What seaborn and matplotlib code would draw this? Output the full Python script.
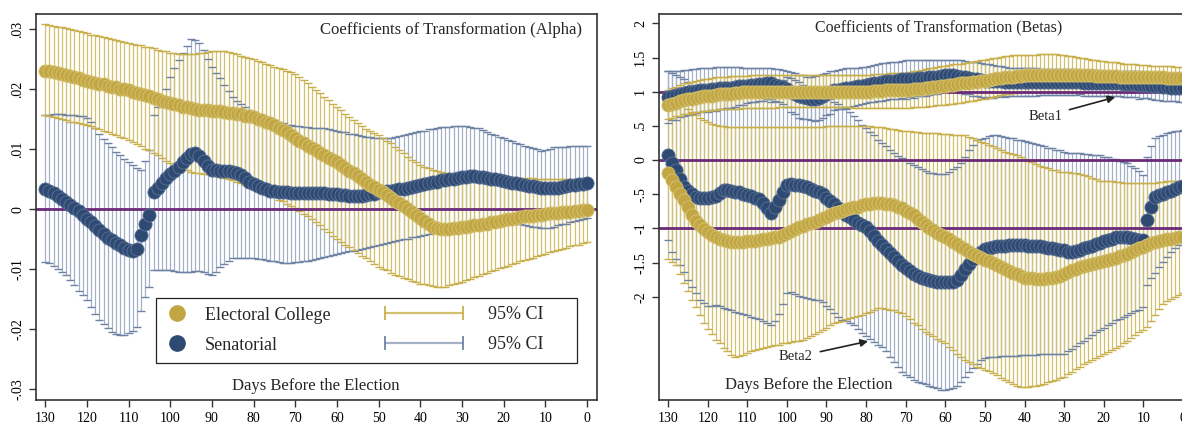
import numpy as np
import pandas as pd
import matplotlib
matplotlib.use('Agg')
import matplotlib.pyplot as plt
from matplotlib.lines import Line2D
from matplotlib.legend_handler import HandlerLine2D
import seaborn as sns

# days before the election (x axis, reversed)
days = list(range(130, -1, -1))

# ---- left panel: alpha ----
alpha_ec = [
    .0231, .0230, .0229, .0227, .0226, .0224, .0222, .0220, .0218, .0216,
    .0214, .0212, .0211, .0209, .0208, .0206, .0204, .0203, .0201, .0200,
    .0198, .0196, .0194, .0192, .0190, .0188, .0186, .0184, .0181, .0179,
    .0177, .0175, .0173, .0171, .0170, .0168, .0167, .0166, .0165, .0165,
    .0164, .0163, .0163, .0162, .0161, .0160, .0159, .0158, .0156, .0155,
    .0153, .0151, .0148, .0146, .0143, .0140, .0136, .0132, .0128, .0124,
    .0118, .0114, .0110, .0106, .0102, .0098, .0094, .0090, .0086, .0082,
    .0078, .0073, .0069, .0064, .0060, .0055, .0050, .0046, .0041, .0037,
    .0032, .0028, .0023, .0019, .0014, .0010, .0005, .0000, -.0004, -.0010,
    -.0015, -.0020, -.0025, -.0030, -.0031, -.0033, -.0033, -.0033, -.0032, -.0031,
    -.0030, -.0029, -.0028, -.0027, -.0026, -.0025, -.0024, -.0022, -.0021, -.0020,
    -.0018, -.0017, -.0016, -.0015, -.0013, -.0012, -.0011, -.0011, -.0010, -.0009,
    -.0008, -.0007, -.0006, -.0006, -.0005, -.0004, -.0004, -.0003, -.0003, -.0002,
    -.0002]
alpha_ec_hi = [
    .0308, .0307, .0306, .0304, .0303, .0302, .0300, .0298, .0297, .0295,
    .0293, .0291, .0290, .0288, .0287, .0285, .0283, .0282, .0280, .0279,
    .0277, .0276, .0274, .0273, .0271, .0270, .0268, .0266, .0264, .0263,
    .0261, .0260, .0259, .0258, .0258, .0258, .0259, .0260, .0261, .0262,
    .0263, .0263, .0263, .0263, .0262, .0260, .0258, .0256, .0254, .0252,
    .0250, .0247, .0245, .0242, .0240, .0237, .0235, .0233, .0230, .0228,
    .0226, .0221, .0215, .0210, .0204, .0199, .0193, .0187, .0182, .0176,
    .0170, .0165, .0159, .0154, .0148, .0143, .0138, .0133, .0130, .0127,
    .0123, .0118, .0114, .0110, .0104, .0099, .0093, .0087, .0082, .0078,
    .0074, .0070, .0068, .0066, .0064, .0062, .0061, .0060, .0059, .0058,
    .0057, .0057, .0056, .0056, .0055, .0054, .0054, .0054, .0053, .0053,
    .0053, .0053, .0053, .0052, .0052, .0052, .0052, .0052, .0051, .0051,
    .0051, .0051, .0051, .0051, .0051, .0051, .0051, .0051, .0051, .0051,
    .0051]
alpha_ec_lo = [
    .0157, .0155, .0153, .0152, .0150, .0148, .0146, .0145, .0143, .0142,
    .0140, .0138, .0135, .0133, .0130, .0128, .0125, .0123, .0120, .0118,
    .0115, .0112, .0108, .0105, .0101, .0098, .0094, .0090, .0085, .0081,
    .0077, .0074, .0071, .0068, .0065, .0062, .0061, .0060, .0059, .0058,
    .0057, .0055, .0053, .0052, .0050, .0048, .0046, .0044, .0041, .0039,
    .0037, .0034, .0030, .0027, .0023, .0020, .0016, .0013, .0009, .0006,
    .0002, -.0003, -.0008, -.0012, -.0017, -.0022, -.0027, -.0033, -.0038, -.0044,
    -.0049, -.0054, -.0059, -.0063, -.0068, -.0073, -.0078, -.0082, -.0087, -.0091,
    -.0096, -.0099, -.0102, -.0106, -.0109, -.0112, -.0114, -.0117, -.0119, -.0122,
    -.0124, -.0125, -.0127, -.0128, -.0129, -.0130, -.0129, -.0127, -.0125, -.0123,
    -.0121, -.0118, -.0116, -.0113, -.0111, -.0108, -.0106, -.0103, -.0101, -.0098,
    -.0096, -.0094, -.0092, -.0089, -.0087, -.0085, -.0083, -.0081, -.0078, -.0076,
    -.0074, -.0072, -.0070, -.0068, -.0066, -.0064, -.0062, -.0060, -.0059, -.0057,
    -.0055]
alpha_sen = [
    .0034, .0031, .0027, .0022, .0017, .0012, .0007, .0002, -.0003, -.0009,
    -.0016, -.0022, -.0028, -.0035, -.0041, -.0048, -.0052, -.0056, -.0060, -.0064,
    -.0068, -.0069, -.0066, -.0043, -.0024, -.0010, .0028, .0036, .0044, .0052,
    .0058, .0064, .0071, .0078, .0085, .0092, .0093, .0088, .0080, .0072,
    .0066, .0065, .0064, .0064, .0063, .0062, .0060, .0057, .0052, .0046,
    .0042, .0038, .0035, .0033, .0031, .0030, .0029, .0028, .0028, .0027,
    .0027, .0027, .0027, .0027, .0027, .0027, .0027, .0027, .0026, .0026,
    .0025, .0024, .0023, .0022, .0022, .0022, .0022, .0023, .0025, .0026,
    .0028, .0029, .0030, .0031, .0032, .0033, .0034, .0036, .0037, .0039,
    .0041, .0042, .0044, .0045, .0046, .0048, .0049, .0050, .0051, .0052,
    .0053, .0054, .0055, .0055, .0054, .0053, .0052, .0051, .0050, .0048,
    .0047, .0045, .0044, .0043, .0042, .0040, .0039, .0038, .0037, .0036,
    .0035, .0035, .0036, .0036, .0037, .0039, .0040, .0041, .0042, .0042,
    .0043]
alpha_sen_hi = [
    .0157, .0157, .0158, .0158, .0158, .0157, .0157, .0157, .0156, .0155,
    .0152, .0145, .0135, .0125, .0117, .0110, .0103, .0096, .0090, .0084,
    .0078, .0073, .0068, .0065, .0080, .0098, .0157, .0170, .0185, .0200,
    .0220, .0235, .0248, .0260, .0272, .0283, .0282, .0277, .0265, .0250,
    .0237, .0227, .0218, .0207, .0197, .0187, .0181, .0175, .0170, .0165,
    .0160, .0157, .0155, .0152, .0150, .0147, .0145, .0143, .0141, .0140,
    .0138, .0138, .0137, .0137, .0136, .0136, .0135, .0135, .0134, .0132,
    .0131, .0129, .0128, .0126, .0125, .0123, .0122, .0121, .0120, .0119,
    .0119, .0118, .0118, .0118, .0120, .0122, .0124, .0126, .0127, .0128,
    .0130, .0131, .0133, .0134, .0136, .0137, .0137, .0137, .0138, .0138,
    .0138, .0138, .0137, .0136, .0135, .0132, .0129, .0126, .0124, .0121,
    .0118, .0115, .0113, .0111, .0109, .0106, .0104, .0102, .0100, .0097,
    .0098, .0100, .0103, .0104, .0104, .0104, .0105, .0105, .0105, .0105,
    .0105]
alpha_sen_lo = [
    -.0088, -.0090, -.0095, -.0100, -.0105, -.0110, -.0118, -.0127, -.0136, -.0143,
    -.0152, -.0163, -.0175, -.0185, -.0192, -.0198, -.0205, -.0208, -.0210, -.0210,
    -.0207, -.0203, -.0197, -.0170, -.0147, -.0130, -.0102, -.0102, -.0102, -.0102,
    -.0102, -.0103, -.0104, -.0105, -.0105, -.0104, -.0103, -.0103, -.0105, -.0108,
    -.0110, -.0104, -.0097, -.0092, -.0087, -.0082, -.0082, -.0082, -.0082, -.0082,
    -.0082, -.0083, -.0083, -.0084, -.0086, -.0087, -.0088, -.0090, -.0090, -.0089,
    -.0088, -.0088, -.0087, -.0086, -.0084, -.0083, -.0082, -.0080, -.0078, -.0077,
    -.0075, -.0073, -.0072, -.0070, -.0069, -.0068, -.0066, -.0064, -.0063, -.0061,
    -.0060, -.0058, -.0057, -.0055, -.0053, -.0052, -.0050, -.0049, -.0047, -.0046,
    -.0045, -.0043, -.0041, -.0039, -.0037, -.0035, -.0033, -.0031, -.0029, -.0027,
    -.0026, -.0025, -.0024, -.0022, -.0021, -.0020, -.0019, -.0018, -.0019, -.0020,
    -.0021, -.0022, -.0023, -.0024, -.0025, -.0027, -.0028, -.0029, -.0030, -.0031,
    -.0032, -.0031, -.0029, -.0027, -.0025, -.0024, -.0022, -.0020, -.0018, -.0016,
    -.0015]

# ---- right panel: betas ----
beta1_ec = [
    .80, .82, .84, .86, .88, .89, .90, .91, .92, .93,
    .94, .94, .95, .96, .96, .97, .97, .98, .98, .99,
    .99, .99, .99, 1.00, 1.00, 1.00, 1.00, 1.00, 1.00, 1.00,
    1.00, 1.00, 1.00, 1.00, 1.00, 1.00, 1.00, 1.00, 1.00, 1.00,
    1.00, 1.00, 1.00, 1.00, 1.00, 1.00, 1.00, 1.00, 1.00, 1.00,
    1.00, 1.00, 1.01, 1.01, 1.01, 1.02, 1.02, 1.02, 1.02, 1.03,
    1.03, 1.03, 1.04, 1.04, 1.04, 1.05, 1.06, 1.07, 1.07, 1.08,
    1.09, 1.10, 1.10, 1.11, 1.12, 1.13, 1.13, 1.14, 1.14, 1.15,
    1.16, 1.17, 1.19, 1.20, 1.20, 1.21, 1.22, 1.22, 1.23, 1.23,
    1.24, 1.24, 1.24, 1.24, 1.24, 1.24, 1.24, 1.24, 1.24, 1.24,
    1.24, 1.24, 1.24, 1.24, 1.24, 1.24, 1.24, 1.24, 1.23, 1.23,
    1.23, 1.23, 1.23, 1.23, 1.22, 1.22, 1.22, 1.22, 1.21, 1.21,
    1.21, 1.21, 1.21, 1.21, 1.21, 1.21, 1.20, 1.20, 1.20, 1.20,
    1.20]
beta1_ec_hi = [
    1.02, 1.05, 1.07, 1.10, 1.12, 1.13, 1.14, 1.16, 1.17, 1.18,
    1.19, 1.20, 1.21, 1.21, 1.22, 1.22, 1.23, 1.23, 1.23, 1.23,
    1.23, 1.24, 1.24, 1.24, 1.24, 1.24, 1.24, 1.24, 1.24, 1.24,
    1.24, 1.24, 1.24, 1.24, 1.24, 1.24, 1.24, 1.24, 1.24, 1.24,
    1.24, 1.24, 1.24, 1.24, 1.24, 1.24, 1.24, 1.25, 1.25, 1.25,
    1.25, 1.25, 1.26, 1.26, 1.26, 1.26, 1.27, 1.27, 1.27, 1.27,
    1.28, 1.29, 1.30, 1.31, 1.32, 1.33, 1.34, 1.35, 1.36, 1.37,
    1.38, 1.39, 1.40, 1.40, 1.41, 1.42, 1.43, 1.44, 1.45, 1.46,
    1.47, 1.48, 1.49, 1.50, 1.51, 1.52, 1.52, 1.53, 1.53, 1.53,
    1.53, 1.54, 1.54, 1.54, 1.55, 1.55, 1.55, 1.55, 1.55, 1.54,
    1.53, 1.52, 1.52, 1.51, 1.50, 1.49, 1.48, 1.47, 1.46, 1.45,
    1.45, 1.44, 1.44, 1.43, 1.42, 1.41, 1.40, 1.40, 1.40, 1.39,
    1.39, 1.39, 1.38, 1.38, 1.38, 1.37, 1.37, 1.37, 1.36, 1.36,
    1.36]
beta1_ec_lo = [
    .60, .62, .64, .65, .67, .68, .69, .70, .71, .72,
    .72, .73, .73, .74, .74, .75, .75, .75, .75, .76,
    .76, .76, .76, .76, .76, .76, .76, .76, .77, .77,
    .77, .77, .77, .77, .77, .77, .77, .77, .77, .77,
    .77, .77, .77, .77, .77, .77, .77, .76, .76, .76,
    .76, .76, .76, .76, .76, .76, .76, .76, .76, .76,
    .76, .76, .77, .77, .78, .78, .79, .79, .80, .80,
    .81, .82, .82, .83, .84, .85, .86, .87, .88, .89,
    .90, .91, .92, .93, .95, .96, .97, .98, .98, .99,
    .99, .99, .99, .99, 1.00, 1.00, 1.00, 1.00, 1.00, 1.00,
    1.00, 1.00, 1.00, 1.00, 1.00, 1.00, 1.00, 1.00, 1.00, 1.00,
    1.00, 1.00, 1.00, 1.00, 1.00, 1.00, 1.00, 1.00, 1.00, 1.00,
    1.01, 1.01, 1.01, 1.01, 1.01, 1.01, 1.02, 1.02, 1.02, 1.02,
    1.02]
beta1_sen = [
    .92, .94, .95, .97, .98, .99, 1.00, 1.01, 1.02, 1.03,
    1.03, 1.04, 1.04, 1.05, 1.05, 1.06, 1.06, 1.07, 1.08, 1.08,
    1.09, 1.10, 1.10, 1.11, 1.11, 1.12, 1.12, 1.10, 1.09, 1.07,
    1.04, 1.00, .97, .93, .92, .91, .90, .90, .91, .94,
    .97, .99, 1.02, 1.03, 1.04, 1.05, 1.06, 1.07, 1.08, 1.09,
    1.10, 1.11, 1.12, 1.13, 1.14, 1.15, 1.16, 1.16, 1.17, 1.18,
    1.18, 1.19, 1.19, 1.20, 1.20, 1.20, 1.21, 1.22, 1.22, 1.23,
    1.24, 1.24, 1.24, 1.23, 1.22, 1.21, 1.20, 1.19, 1.18, 1.17,
    1.16, 1.16, 1.15, 1.15, 1.15, 1.14, 1.14, 1.14, 1.14, 1.14,
    1.14, 1.14, 1.14, 1.14, 1.14, 1.14, 1.14, 1.14, 1.14, 1.14,
    1.14, 1.14, 1.14, 1.14, 1.14, 1.13, 1.13, 1.13, 1.13, 1.13,
    1.12, 1.12, 1.12, 1.12, 1.12, 1.11, 1.11, 1.11, 1.11, 1.10,
    1.10, 1.10, 1.09, 1.08, 1.08, 1.07, 1.07, 1.06, 1.06, 1.05,
    1.05]
beta1_sen_hi = [
    1.30, 1.30, 1.31, 1.31, 1.32, 1.32, 1.33, 1.33, 1.34, 1.34,
    1.35, 1.35, 1.36, 1.36, 1.36, 1.36, 1.36, 1.36, 1.36, 1.35,
    1.35, 1.35, 1.35, 1.35, 1.35, 1.34, 1.34, 1.33, 1.33, 1.32,
    1.30, 1.29, 1.27, 1.25, 1.24, 1.22, 1.22, 1.23, 1.24, 1.26,
    1.28, 1.30, 1.31, 1.32, 1.33, 1.34, 1.34, 1.35, 1.35, 1.36,
    1.36, 1.37, 1.39, 1.40, 1.42, 1.42, 1.43, 1.43, 1.44, 1.45,
    1.46, 1.46, 1.47, 1.47, 1.47, 1.47, 1.47, 1.47, 1.47, 1.47,
    1.47, 1.47, 1.47, 1.46, 1.46, 1.45, 1.44, 1.44, 1.43, 1.42,
    1.41, 1.40, 1.39, 1.38, 1.37, 1.36, 1.35, 1.35, 1.35, 1.34,
    1.34, 1.34, 1.34, 1.34, 1.33, 1.33, 1.33, 1.33, 1.33, 1.33,
    1.33, 1.33, 1.33, 1.33, 1.32, 1.32, 1.32, 1.32, 1.32, 1.32,
    1.31, 1.31, 1.31, 1.31, 1.31, 1.30, 1.30, 1.30, 1.30, 1.30,
    1.29, 1.29, 1.28, 1.28, 1.28, 1.27, 1.27, 1.26, 1.26, 1.25,
    1.25]
beta1_sen_lo = [
    .54, .58, .59, .63, .64, .66, .67, .69, .70, .72,
    .71, .73, .72, .74, .74, .76, .76, .78, .80, .81,
    .83, .85, .85, .87, .87, .90, .90, .87, .85, .82,
    .78, .71, .67, .61, .60, .60, .58, .57, .58, .62,
    .66, .68, .73, .74, .75, .76, .78, .79, .81, .82,
    .84, .85, .85, .86, .86, .88, .89, .89, .90, .91,
    .90, .92, .91, .93, .93, .93, .95, .97, .97, .99,
    1.01, 1.01, 1.01, 1.00, .98, .97, .96, .94, .93, .92,
    .91, .92, .91, .92, .93, .92, .93, .93, .93, .94,
    .94, .94, .94, .94, .95, .95, .95, .95, .95, .95,
    .95, .95, .95, .95, .96, .94, .94, .94, .94, .94,
    .93, .93, .93, .93, .93, .92, .92, .92, .92, .90,
    .91, .91, .90, .88, .88, .87, .87, .86, .86, .85,
    .85]
beta2_ec = [
    -.19, -.29, -.39, -.49, -.58, -.68, -.80, -.89, -.95, -1.01,
    -1.05, -1.09, -1.12, -1.15, -1.17, -1.19, -1.20, -1.20, -1.20, -1.20,
    -1.19, -1.19, -1.18, -1.17, -1.16, -1.15, -1.14, -1.13, -1.12, -1.10,
    -1.07, -1.04, -1.01, -.98, -.96, -.94, -.92, -.90, -.87, -.85,
    -.83, -.80, -.78, -.76, -.74, -.72, -.70, -.69, -.68, -.66,
    -.65, -.64, -.63, -.63, -.63, -.64, -.65, -.66, -.68, -.70,
    -.74, -.77, -.81, -.86, -.90, -.95, -.99, -1.03, -1.06, -1.09,
    -1.13, -1.16, -1.20, -1.23, -1.27, -1.30, -1.34, -1.37, -1.41, -1.43,
    -1.46, -1.48, -1.51, -1.54, -1.56, -1.59, -1.62, -1.65, -1.67, -1.70,
    -1.72, -1.73, -1.73, -1.74, -1.74, -1.74, -1.73, -1.72, -1.71, -1.69,
    -1.66, -1.64, -1.61, -1.59, -1.56, -1.55, -1.53, -1.52, -1.51, -1.49,
    -1.48, -1.46, -1.45, -1.43, -1.41, -1.39, -1.37, -1.35, -1.32, -1.29,
    -1.27, -1.24, -1.22, -1.20, -1.19, -1.17, -1.16, -1.15, -1.14, -1.13,
    -1.12]
beta2_ec_hi = [
    1.00, .95, .90, .85, .80, .75, .70, .66, .62, .58,
    .55, .53, .51, .50, .50, .49, .49, .49, .48, .48,
    .48, .48, .48, .48, .48, .48, .48, .49, .49, .49,
    .49, .49, .49, .49, .49, .49, .49, .49, .49, .49,
    .50, .50, .50, .50, .50, .50, .50, .50, .50, .50,
    .50, .50, .49, .49, .48, .47, .46, .45, .44, .43,
    .42, .42, .41, .41, .40, .40, .40, .39, .39, .38,
    .38, .38, .37, .37, .36, .36, .34, .32, .29, .27,
    .25, .22, .20, .17, .15, .12, .10, .09, .07, .05,
    .02, -.01, -.03, -.06, -.08, -.10, -.12, -.14, -.15, -.17,
    -.18, -.18, -.19, -.19, -.20, -.22, -.24, -.26, -.28, -.30,
    -.30, -.31, -.31, -.32, -.32, -.33, -.33, -.33, -.34, -.34,
    -.34, -.34, -.33, -.33, -.32, -.32, -.31, -.31, -.30, -.30,
    -.30]
beta2_ec_lo = [
    -1.44, -1.49, -1.54, -1.67, -1.80, -1.92, -2.04, -2.15, -2.27, -2.38,
    -2.47, -2.55, -2.63, -2.68, -2.75, -2.80, -2.85, -2.88, -2.87, -2.85,
    -2.82, -2.80, -2.78, -2.77, -2.75, -2.73, -2.72, -2.71, -2.70, -2.68,
    -2.67, -2.66, -2.65, -2.64, -2.63, -2.61, -2.58, -2.55, -2.51, -2.48,
    -2.45, -2.41, -2.38, -2.37, -2.35, -2.33, -2.31, -2.29, -2.28, -2.26,
    -2.24, -2.22, -2.19, -2.17, -2.17, -2.18, -2.19, -2.20, -2.22, -2.24,
    -2.28, -2.33, -2.38, -2.42, -2.47, -2.51, -2.55, -2.58, -2.62, -2.65,
    -2.68, -2.73, -2.78, -2.83, -2.88, -2.92, -2.95, -2.99, -3.02, -3.04,
    -3.07, -3.09, -3.12, -3.15, -3.19, -3.22, -3.25, -3.27, -3.30, -3.32,
    -3.32, -3.32, -3.31, -3.30, -3.29, -3.27, -3.25, -3.23, -3.21, -3.19,
    -3.17, -3.13, -3.10, -3.06, -3.02, -2.99, -2.96, -2.93, -2.90, -2.87,
    -2.84, -2.81, -2.78, -2.75, -2.72, -2.68, -2.64, -2.60, -2.56, -2.52,
    -2.48, -2.44, -2.36, -2.27, -2.18, -2.10, -2.06, -2.03, -2.00, -1.97,
    -1.94]
beta2_sen = [
    .07, -.04, -.15, -.28, -.39, -.45, -.50, -.54, -.56, -.56,
    -.55, -.54, -.52, -.48, -.44, -.44, -.45, -.46, -.47, -.49,
    -.51, -.53, -.55, -.57, -.63, -.70, -.78, -.68, -.58, -.47,
    -.37, -.35, -.36, -.37, -.38, -.40, -.43, -.45, -.47, -.50,
    -.55, -.60, -.65, -.70, -.75, -.80, -.84, -.88, -.92, -.95,
    -.98, -1.04, -1.11, -1.18, -1.24, -1.30, -1.36, -1.42, -1.48, -1.54,
    -1.58, -1.63, -1.66, -1.69, -1.72, -1.74, -1.76, -1.77, -1.78, -1.79,
    -1.79, -1.79, -1.78, -1.76, -1.68, -1.60, -1.52, -1.45, -1.39, -1.34,
    -1.30, -1.28, -1.27, -1.26, -1.25, -1.25, -1.24, -1.24, -1.24, -1.24,
    -1.24, -1.25, -1.25, -1.26, -1.26, -1.27, -1.28, -1.29, -1.30, -1.31,
    -1.32, -1.34, -1.35, -1.33, -1.31, -1.29, -1.27, -1.25, -1.23, -1.21,
    -1.19, -1.17, -1.15, -1.13, -1.12, -1.12, -1.13, -1.14, -1.15, -1.17,
    -1.17, -.88, -.68, -.54, -.51, -.49, -.47, -.45, -.43, -.40,
    -.38]
beta2_sen_hi = [
    1.31, 1.28, 1.25, 1.22, 1.18, 1.14, 1.10, 1.07, 1.05, 1.02,
    1.00, .99, .98, .97, .96, .95, .95, .94, .94, .94,
    .93, .93, .92, .92, .91, .90, .85, .95, 1.08, 1.17,
    1.21, 1.20, 1.17, 1.14, 1.10, 1.05, 1.03, 1.00, .97, .95,
    .92, .89, .85, .82, .78, .75, .71, .65, .59, .52,
    .47, .41, .36, .30, .25, .20, .15, .10, .06, .03,
    .00, -.04, -.07, -.10, -.13, -.16, -.19, -.19, -.20, -.20,
    -.20, -.17, -.13, -.10, -.05, .05, .15, .22, .29, .31,
    .33, .35, .37, .36, .35, .34, .33, .32, .30, .29,
    .28, .26, .25, .23, .22, .20, .18, .17, .15, .14,
    .12, .11, .11, .10, .10, .09, .09, .08, .08, .07,
    .05, .04, .02, .01, -.01, -.03, -.05, -.08, -.12, -.16,
    -.22, .05, .20, .32, .35, .37, .39, .41, .42, .43,
    .44]
beta2_sen_lo = [
    -1.17, -1.34, -1.44, -1.54, -1.64, -1.75, -1.86, -1.95, -2.05, -2.09,
    -2.13, -2.13, -2.12, -2.13, -2.16, -2.18, -2.20, -2.22, -2.23, -2.25,
    -2.27, -2.29, -2.31, -2.33, -2.36, -2.38, -2.41, -2.35, -2.25, -2.10,
    -1.95, -1.93, -1.96, -1.99, -2.01, -2.02, -2.03, -2.04, -2.05, -2.08,
    -2.13, -2.18, -2.24, -2.30, -2.34, -2.36, -2.38, -2.42, -2.47, -2.53,
    -2.58, -2.62, -2.66, -2.70, -2.74, -2.80, -2.88, -2.95, -3.02, -3.10,
    -3.14, -3.17, -3.21, -3.24, -3.26, -3.28, -3.30, -3.32, -3.34, -3.36,
    -3.36, -3.35, -3.33, -3.30, -3.24, -3.17, -3.10, -3.04, -2.98, -2.93,
    -2.90, -2.88, -2.88, -2.88, -2.87, -2.87, -2.87, -2.86, -2.86, -2.85,
    -2.85, -2.85, -2.85, -2.85, -2.84, -2.84, -2.84, -2.84, -2.84, -2.83,
    -2.83, -2.80, -2.76, -2.72, -2.68, -2.64, -2.60, -2.56, -2.52, -2.48,
    -2.45, -2.41, -2.38, -2.34, -2.32, -2.29, -2.26, -2.24, -2.21, -2.19,
    -2.15, -1.83, -1.73, -1.65, -1.56, -1.49, -1.42, -1.35, -1.29, -1.24,
    -1.20]

alpha_ticks = [-.03, -.02, -.01, 0, .01, .02, .03]
alpha_labels = ['-.03', '-.02', '-.01', '0', '.01', '.02', '.03']
beta_ticks = [-2, -1.5, -1, -.5, 0, .5, 1, 1.5, 2]
beta_labels = ['-2', '-1.5', '-1', '-.5', '0', '.5', '1', '1.5', '2']
day_ticks = [130, 120, 110, 100, 90, 80, 70, 60, 50, 40, 30, 20, 10, 0]

sns.set_theme(style='ticks')
plt.rcParams['font.family'] = ['Liberation Serif', 'DejaVu Serif']

GOLD = '#C1A643'
GOLD_EDGE = '#D6C474'
GOLD_CI = '#D3C06E'
GOLD_CAP = '#C8AF4C'
NAVY = '#2E4A72'
NAVY_EDGE = '#5C7397'
SEN_CI = '#A3B0C7'
SEN_CAP = '#6E82A4'
PURPLE = '#6B2A78'


def draw_ci(ax, lo, hi, color, capcolor):
    ax.vlines(days, lo, hi, color=color, lw=0.9, zorder=2)
    for edge in (lo, hi):
        ax.plot(days, edge, ls='none', marker='_', ms=6, mew=1.0,
                color=capcolor, zorder=2.2)


def draw_est(ax, vals, color, edge, z):
    df = pd.DataFrame({'day': days, 'coef': vals})
    sns.scatterplot(data=df, x='day', y='coef', ax=ax, s=90, color=color,
                    edgecolor=edge, linewidth=0.6, zorder=z, legend=False)


def style_axes(ax):
    ax.set_xlabel('')
    ax.set_ylabel('')
    for sp in ax.spines.values():
        sp.set_visible(True)
        sp.set_color('#333333')
        sp.set_linewidth(1.2)
    ax.tick_params(axis='both', direction='out', length=5, width=1,
                   color='#333333', labelsize=10, labelcolor='black')
    ax.set_xticks(day_ticks)
    ax.set_facecolor('white')


fig = plt.figure(figsize=(11.82, 4.25), dpi=100)
ax1 = fig.add_axes([0.0305, 0.0588, 0.4746, 0.908])
ax2 = fig.add_axes([0.5575, 0.0588, 0.451, 0.908])

# ---- left: alpha ----
draw_ci(ax1, alpha_sen_lo, alpha_sen_hi, SEN_CI, SEN_CAP)
draw_ci(ax1, alpha_ec_lo, alpha_ec_hi, GOLD_CI, GOLD_CAP)
ax1.axhline(0, color=PURPLE, lw=2, zorder=2.5)
draw_est(ax1, alpha_sen, NAVY, NAVY_EDGE, 3)
draw_est(ax1, alpha_ec, GOLD, GOLD_EDGE, 3.5)
style_axes(ax1)
ax1.set_xlim(132.2, -2.4)
ax1.set_ylim(-.0318, .0325)
ax1.set_yticks(alpha_ticks, alpha_labels, rotation=90, va='center')
ax1.text(0.973, 0.958, 'Coefficients of Transformation (Alpha)', transform=ax1.transAxes,
         ha='right', va='center', fontsize=12)
ax1.text(0.499, 0.036, 'Days Before the Election', transform=ax1.transAxes,
         ha='center', va='center', fontsize=12)

dot_ec = Line2D([], [], ls='none', marker='o', ms=11, color=GOLD)
dot_sen = Line2D([], [], ls='none', marker='o', ms=11, color=NAVY)
ci_ec = Line2D([], [], color=GOLD_CI, lw=1.6, marker='|', ms=10, mew=1.3, mec=GOLD_CAP)
ci_sen = Line2D([], [], color=SEN_CI, lw=1.6, marker='|', ms=10, mew=1.3, mec=SEN_CAP)

leg1 = ax1.legend([dot_ec, dot_sen], ['Electoral College', 'Senatorial'],
                  loc='center', bbox_to_anchor=(0.214, 0.0907, 0.75, 0.181), mode='expand',
                  borderaxespad=0, fontsize=13, handlelength=1.3, handletextpad=0.9,
                  labelspacing=0.72, borderpad=0.5, frameon=True, fancybox=False,
                  framealpha=1, edgecolor='#222222',
                  handler_map={dot_ec: HandlerLine2D(numpoints=1),
                               dot_sen: HandlerLine2D(numpoints=1)})
leg1.get_frame().set_linewidth(0.9)
leg1.set_zorder(6)
ax1.add_artist(leg1)
leg2 = ax1.legend([ci_ec, ci_sen], ['95% CI', '95% CI'],
                  loc='center left', bbox_to_anchor=(0.6, 0.1815), borderaxespad=0,
                  fontsize=13, handlelength=4.9, handletextpad=1.1, labelspacing=0.72,
                  borderpad=0.4, frameon=False,
                  handler_map={ci_ec: HandlerLine2D(numpoints=2),
                               ci_sen: HandlerLine2D(numpoints=2)})
leg2.set_zorder(7)

# ---- right: betas ----
draw_ci(ax2, beta2_sen_lo, beta2_sen_hi, SEN_CI, SEN_CAP)
draw_ci(ax2, beta1_sen_lo, beta1_sen_hi, SEN_CI, SEN_CAP)
draw_ci(ax2, beta2_ec_lo, beta2_ec_hi, GOLD_CI, GOLD_CAP)
draw_ci(ax2, beta1_ec_lo, beta1_ec_hi, GOLD_CI, GOLD_CAP)
for yline in (-1, 0, 1):
    ax2.axhline(yline, color=PURPLE, lw=2, zorder=2.5)
draw_est(ax2, beta2_sen, NAVY, NAVY_EDGE, 3)
draw_est(ax2, beta1_sen, NAVY, NAVY_EDGE, 3)
draw_est(ax2, beta2_ec, GOLD, GOLD_EDGE, 3.5)
draw_est(ax2, beta1_ec, GOLD, GOLD_EDGE, 3.5)
style_axes(ax2)
ax2.set_xlim(132.3, -2.3)
ax2.set_ylim(-3.51, 2.135)
ax2.set_yticks(beta_ticks, beta_labels, rotation=90, va='center')
ax2.text(0.524, 0.964, 'Coefficients of Transformation (Betas)', transform=ax2.transAxes,
         ha='center', va='center', fontsize=11.4)
ax2.text(0.281, 0.039, 'Days Before the Election', transform=ax2.transAxes,
         ha='center', va='center', fontsize=12)
arrow = dict(arrowstyle='-|>', color='#222222', lw=1.2, mutation_scale=11,
             shrinkA=3, shrinkB=0)
ax2.annotate('Beta1', xy=(17.1, .92), xytext=(34.8, .64), ha='center', va='center',
             fontsize=10.5, arrowprops=arrow, zorder=8)
ax2.annotate('Beta2', xy=(79.5, -2.65), xytext=(97.7, -2.88), ha='center', va='center',
             fontsize=10.5, arrowprops=arrow, zorder=8)

fig.savefig('out.png', dpi=100)
